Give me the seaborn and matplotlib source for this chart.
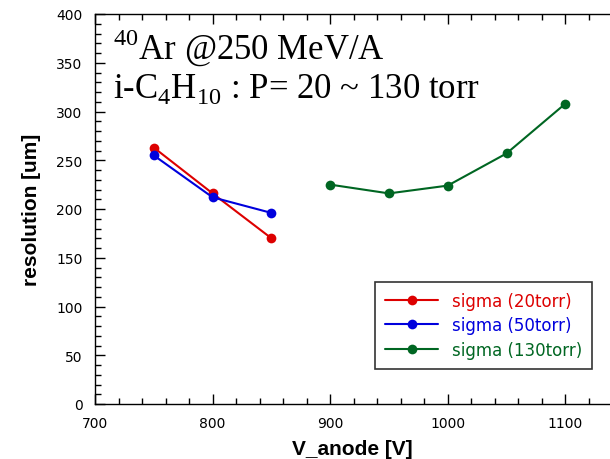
import matplotlib
matplotlib.use('Agg')
import matplotlib.pyplot as plt
from matplotlib.ticker import MultipleLocator
import pandas as pd
import seaborn as sns

# data
v_20torr = [750, 800, 850]
res_20torr = [263, 216, 170]
v_50torr = [750, 800, 850]
res_50torr = [255, 212, 196]
v_130torr = [900, 950, 1000, 1050, 1100]
res_130torr = [225, 216, 224, 257, 308]
labels = ['sigma (20torr)', 'sigma (50torr)', 'sigma (130torr)']
colors = ['#dd0000', '#0000dd', '#006622']

df = pd.DataFrame({
    'V': v_20torr + v_50torr + v_130torr,
    'res': res_20torr + res_50torr + res_130torr,
    'series': [labels[0]] * len(v_20torr) + [labels[1]] * len(v_50torr) + [labels[2]] * len(v_130torr),
})

sns.set_theme(style='ticks')
plt.rcParams['font.family'] = ['DejaVu Sans']
plt.rcParams['text.color'] = 'black'
plt.rcParams['axes.labelcolor'] = 'black'
plt.rcParams['mathtext.fontset'] = 'custom'
plt.rcParams['mathtext.rm'] = 'Liberation Serif'

fig = plt.figure(figsize=(6.1, 4.6), dpi=100)
ax = fig.add_axes([95 / 610, 55 / 460, 515 / 610, 390 / 460])

sns.lineplot(data=df, x='V', y='res', hue='series', hue_order=labels,
             palette=colors, marker='o', markersize=7, markeredgewidth=0,
             linewidth=1.5, ax=ax)

ax.set_xlim(700, 1138)
ax.set_ylim(0, 400)
ax.xaxis.set_major_locator(MultipleLocator(100))
ax.xaxis.set_minor_locator(MultipleLocator(20))
ax.yaxis.set_major_locator(MultipleLocator(50))
ax.yaxis.set_minor_locator(MultipleLocator(10))
ax.tick_params(which='both', direction='in', top=True, right=False,
               labelsize=10, colors='black')
ax.tick_params(which='major', length=7, width=1)
ax.tick_params(which='minor', length=4, width=1)
ax.tick_params(axis='x', which='major', pad=9)
ax.tick_params(axis='y', which='major', pad=9)
ax.spines['right'].set_visible(False)
for s in ['left', 'top', 'bottom']:
    ax.spines[s].set_color('black')
    ax.spines[s].set_linewidth(1)

ax.set_xlabel('V_anode [V]', fontsize=15, fontweight='bold',
              family='Liberation Sans', labelpad=6)
ax.set_ylabel('resolution [um]', fontsize=15, fontweight='bold',
              family='Liberation Sans', labelpad=11)

ax.text(0.035, 0.885, r'$^{40}$Ar @250 MeV/A', transform=ax.transAxes,
        fontsize=25, family='Liberation Serif', va='baseline', ha='left',
        color='black')
ax.text(0.035, 0.787, r'i-C$_4$H$_{10}$ : P= 20 ~ 130 torr', transform=ax.transAxes,
        fontsize=25, family='Liberation Serif', va='baseline', ha='left',
        color='black')

leg = ax.legend(loc='lower right', bbox_to_anchor=(0.965, 0.09), fontsize=12,
                frameon=True, fancybox=False, edgecolor='black',
                handlelength=3.2, labelcolor='linecolor', borderpad=0.6,
                labelspacing=0.4, borderaxespad=0)
leg.get_frame().set_linewidth(1.2)

fig.savefig('out.png', dpi=100)
